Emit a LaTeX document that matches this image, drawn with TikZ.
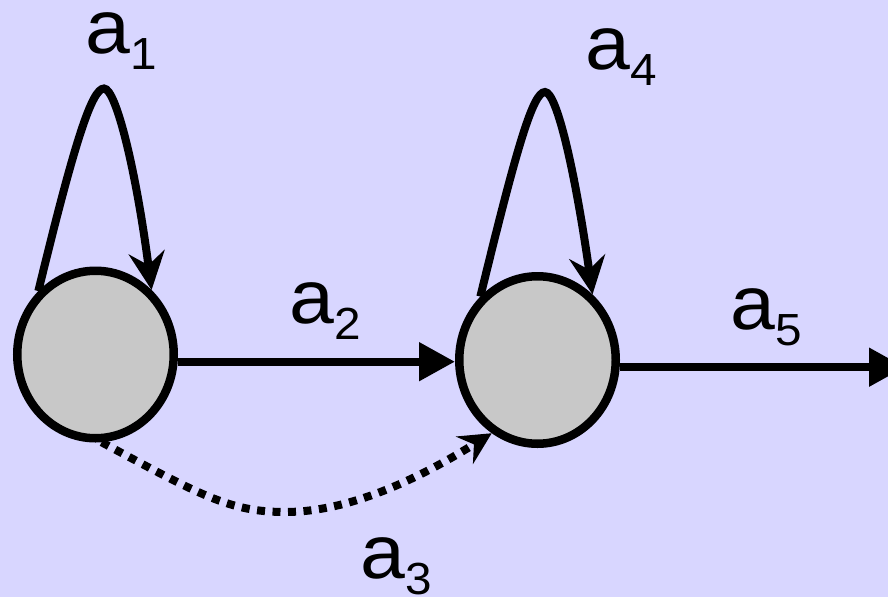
\documentclass[tikz,border=0pt]{standalone}
\usepackage{fontspec}
\setmainfont{Liberation Sans}
\usetikzlibrary{arrows.meta,shapes.geometric,calc}
\definecolor{bg}{RGB}{216,214,255}
\definecolor{statefill}{RGB}{200,200,200}
\newcommand{\lbl}[2]{\scalebox{1.06}[1]{\fontsize{76}{80}\selectfont #1\kern1pt\raisebox{-16pt}{\fontsize{45}{48}\selectfont #2}}}
\begin{document}
\begin{tikzpicture}[x=1pt,y=-1pt,
  state/.style={ellipse, draw=black, fill=statefill, line width=8.5pt,
    minimum width=156.5pt, minimum height=167.5pt, inner sep=0pt},
  edge/.style={line width=8pt, draw=black},
  flat/.style={-{Triangle[length=36pt,width=37pt]}},
  barb/.style={-{Stealth[length=38pt,width=36pt,inset=13pt]}},
  dotline/.style={line width=8pt, dash pattern=on 8pt off 7.5pt, line cap=butt},
  lab/.style={anchor=base west, inner sep=0pt, outer sep=0pt}]
\fill[bg] (0,0) rectangle (888,597);
\useasboundingbox (0,0) rectangle (888,597);
\node[state] (c1) at (95.5,354.5) {};
\node[state] (c2) at (537.5,360) {};
\coordinate (out) at (905,368);
% loops
\draw[edge,barb] (c1.132) .. controls ($(c1)+(-20.5,-214.5)$) and ($(c1)+(-3.5,-266)$) .. ($(c1)+(8.5,-266)$)
  .. controls ($(c1)+(20.5,-266)$) and ($(c1)+(40.5,-184.5)$) .. (c1.49);
\draw[edge,barb] (c2.132) .. controls ($(c2)+(-20.5,-214)$) and ($(c2)+(-4.5,-268)$) .. ($(c2)+(7.5,-268)$)
  .. controls ($(c2)+(19.5,-268)$) and ($(c2)+(38,-186)$) .. (c2.50);
% straight arrows
\draw[edge,flat] (c1.-5) -- (c1.-5 -| c2.west);
\draw[edge,flat] (c2.-5) -- (c2.-5 -| out);
% dotted arrow
\draw[edge,dotline,-{Stealth[length=32pt,width=32pt,inset=11pt]}] (c1.-86) .. controls (200,495) and (230,512) .. (285,512)
  .. controls (350,512) and (420,478) .. (c2.-122);
% labels
\node[lab] (l1) at (85,53) {\lbl{a}{1}};
\node[lab] (l2) at (289,323) {\lbl{a}{2}};
\node[lab] (l3) at (360,578) {\lbl{a}{3}};
\node[lab] (l4) at (585,69) {\lbl{a}{4}};
\node[lab] (l5) at (730,329) {\lbl{a}{5}};
\end{tikzpicture}
\end{document}
